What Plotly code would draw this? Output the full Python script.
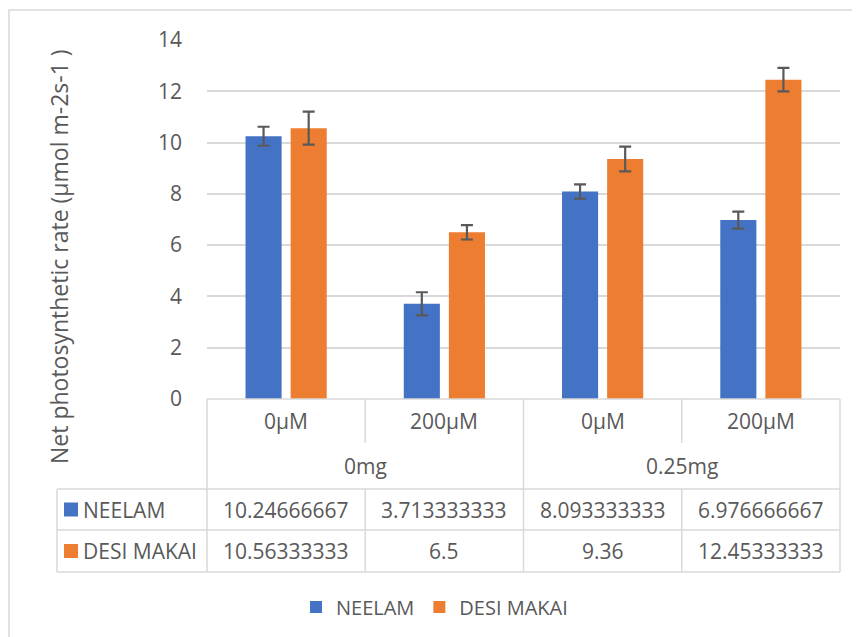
import plotly.graph_objects as go

# ---- data ----
categories = ["0µM", "200µM", "0µM", "200µM"]
groups = ["0mg", "0.25mg"]
series_names = ["NEELAM", "DESI MAKAI"]
neelam = [10.24666667, 3.713333333, 8.093333333, 6.976666667]
desi = [10.56333333, 6.5, 9.36, 12.45333333]
neelam_err = [0.37, 0.45, 0.28, 0.33]
desi_err = [0.64, 0.28, 0.48, 0.46]
y_ticks = [0, 2, 4, 6, 8, 10, 12, 14]
y_title = "Net photosynthetic rate (µmol m-2s-1 )"

# ---- layout constants (page pixels; page body has an 8px margin) ----
OFF = 8
W, H = 860, 637
PL, PR, PT, PB = 207, 840, 40, 399  # plot area in page pixels
L, T = PL - OFF, PT - OFF
R, B = W - (PR - OFF), H - (PB - OFF)
PW, PH = PR - PL, PB - PT
colors = ["#4472C4", "#ED7D31"]
txt = "#595959"
grid = "#d9d9d9"
FONT = "Open Sans"
FS = 21


def px(x):
    return (x - PL) / PW


def py(y):
    return (PB - y) / PH


xs = list(range(len(categories)))
fig = go.Figure()
for name, vals, errs, c in zip(series_names, [neelam, desi], [neelam_err, desi_err], colors):
    fig.add_trace(go.Bar(
        x=xs, y=vals, name=name, marker=dict(color=c, line=dict(width=0)),
        error_y=dict(type="data", array=errs, visible=True, color=txt, thickness=2.2, width=6),
    ))

shapes = []


def hline(y, x0, x1):
    shapes.append(dict(type="line", xref="paper", yref="paper", x0=px(x0), x1=px(x1),
                       y0=py(y), y1=py(y), line=dict(color=grid, width=1.5)))


def vline(x, y0, y1):
    shapes.append(dict(type="line", xref="paper", yref="paper", x0=px(x), x1=px(x),
                       y0=py(y0), y1=py(y1), line=dict(color=grid, width=1.5)))


n = len(categories)
cw = PW / n
row_cat = (PB, 443)
row_grp = (443, 489)
row_s1 = (489, 530)
row_s2 = (530, 572)
left_col = 57

# horizontal lines
hline(PB, PL, PR)
for y in [row_s1[0], row_s2[0], row_s2[1]]:
    hline(y, left_col, PR)
# vertical lines
vline(PL, PB, row_s2[1])
vline(PR, PB, row_s2[1])
vline(left_col, row_s1[0], row_s2[1])
per_group = n // len(groups)
for i in range(1, n):
    x = PL + i * cw
    if i % per_group == 0:
        vline(x, PB, row_s2[1])
    else:
        vline(x, PB, row_cat[1])
        vline(x, row_s1[0], row_s2[1])

# outer chart border
shapes.append(dict(type="rect", xref="paper", yref="paper", x0=px(OFF + 1), x1=px(W + 20),
                   y0=py(10), y1=py(H + 20), line=dict(color=grid, width=1.5)))

annotations = []


def ann(text, x, y, xanchor="center"):
    annotations.append(dict(text=text, xref="paper", yref="paper", x=px(x), y=py(y),
                            xanchor=xanchor, yanchor="middle", showarrow=False,
                            font=dict(family=FONT, size=FS, color=txt)))


for i, c in enumerate(categories):
    ann(c, PL + (i + 0.5) * cw, 421)
for g, name in enumerate(groups):
    ann(name, PL + (g + 0.5) * per_group * cw, 466)
for row, (name, vals, c) in enumerate(zip(series_names, [neelam, desi], colors)):
    yc = (row_s1 if row == 0 else row_s2)
    ym = (yc[0] + yc[1]) / 2
    shapes.append(dict(type="rect", xref="paper", yref="paper", x0=px(64), x1=px(78),
                       y0=py(ym - 7), y1=py(ym + 7), fillcolor=c, line=dict(width=0)))
    ann(name, 81, ym, xanchor="left")
    for i, v in enumerate(vals):
        ann(f"{v:.10g}", PL + (i + 0.5) * cw, ym)

annotations.append(dict(text=y_title, xref="paper", yref="paper", x=px(59), y=py(257),
                        textangle=-90, showarrow=False, xanchor="center", yanchor="middle",
                        font=dict(family=FONT, size=23, color=txt)))

fig.update_layout(
    width=W, height=H,
    margin=dict(l=L, r=R, t=T, b=B, pad=0),
    paper_bgcolor="white", plot_bgcolor="white",
    barmode="group", bargap=0.43, bargroupgap=0.2,
    font=dict(family=FONT, size=FS, color=txt),
    xaxis=dict(range=[-0.5, n - 0.5], showticklabels=False, showgrid=False, zeroline=False,
               ticks="", showline=False, fixedrange=True),
    yaxis=dict(range=[0, 14], tickvals=y_ticks, showgrid=True, gridcolor=grid, gridwidth=1.5,
               zeroline=False, ticks="", ticklabelstandoff=24, tickfont=dict(size=FS, color=txt),
               showline=False),
    showlegend=True,
    legend=dict(orientation="h", x=px(296), y=py(607), xanchor="left", yanchor="middle",
                font=dict(family=FONT, size=20, color=txt), traceorder="normal",
                bgcolor="rgba(0,0,0,0)"),
    shapes=shapes, annotations=annotations,
)
fig.write_html("out.html")
